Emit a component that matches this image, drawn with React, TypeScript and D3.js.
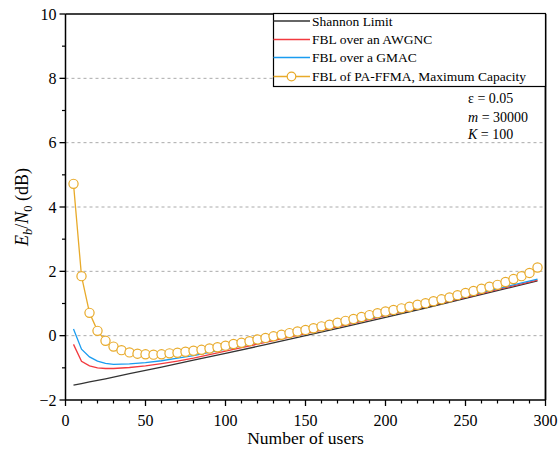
import React from "react";
import * as d3 from "d3";

const lineUsers = [5, 10, 15, 20, 25, 30, 40, 50, 60, 70, 80, 100, 125, 150, 175, 200, 225, 250, 275, 295];
const shannon = [-1.54, -1.49, -1.44, -1.39, -1.34, -1.29, -1.18, -1.08, -0.98, -0.87, -0.76, -0.55, -0.28, 0.0, 0.28, 0.57, 0.86, 1.16, 1.46, 1.7];
const awgnc = [-0.27, -0.8, -0.94, -1.0, -1.02, -1.02, -0.99, -0.94, -0.87, -0.79, -0.7, -0.48, -0.21, 0.06, 0.33, 0.62, 0.9, 1.19, 1.49, 1.73];
const gmac = [0.21, -0.42, -0.66, -0.79, -0.86, -0.89, -0.88, -0.84, -0.78, -0.7, -0.62, -0.42, -0.16, 0.1, 0.37, 0.65, 0.93, 1.22, 1.52, 1.76];

const ffmaUsers = [5, 10, 15, 20, 25, 30, 35, 40, 45, 50, 55, 60, 65, 70, 75, 80, 85, 90, 95, 100, 105, 110, 115, 120, 125, 130, 135, 140, 145, 150, 155, 160, 165, 170, 175, 180, 185, 190, 195, 200, 205, 210, 215, 220, 225, 230, 235, 240, 245, 250, 255, 260, 265, 270, 275, 280, 285, 290, 295];
const ffma = [4.72, 1.85, 0.71, 0.15, -0.16, -0.34, -0.45, -0.52, -0.56, -0.58, -0.59, -0.58, -0.55, -0.53, -0.5, -0.47, -0.44, -0.4, -0.36, -0.31, -0.26, -0.22, -0.17, -0.12, -0.07, -0.02, 0.03, 0.08, 0.13, 0.18, 0.23, 0.29, 0.34, 0.4, 0.46, 0.52, 0.58, 0.64, 0.7, 0.75, 0.8, 0.85, 0.9, 0.96, 1.01, 1.07, 1.13, 1.19, 1.26, 1.33, 1.39, 1.46, 1.52, 1.58, 1.67, 1.76, 1.85, 1.95, 2.12];

const xTicks = [0, 50, 100, 150, 200, 250, 300];
const yTicks = [-2, 0, 2, 4, 6, 8, 10];
const gridY = [0, 2, 4, 6, 8];

const legendLabels = ["Shannon Limit", "FBL over an AWGNC", "FBL over a GMAC", "FBL of PA-FFMA, Maximum Capacity"];

const C_BLACK = "#333333";
const C_RED = "#F23A3F";
const C_BLUE = "#1A9CF0";
const C_YEL = "#E8AA2A";

const FONT = "'Liberation Serif', 'Times New Roman', serif";

export default function App() {
  const W = 559, H = 449;
  const L = 65.5, R = 545.5, T = 14, B = 400;
  const x = d3.scaleLinear().domain([0, 300]).range([L, R]);
  const y = d3.scaleLinear().domain([-2, 10]).range([B, T]);

  const line = d3.line<[number, number]>().x(d => x(d[0])).y(d => y(d[1]));
  const mk = (xs: number[], ys: number[]) => xs.map((v, i) => [v, ys[i]] as [number, number]);

  const xMinor = d3.range(0, 301, 10).filter(v => v % 50 !== 0);
  const yMinor = d3.range(-2, 10.01, 1).filter(v => v % 2 !== 0);

  const legX0 = 273.5, legX1 = 545.5, legY0 = 13.5, legY1 = 86.5;
  const rowY = [21, 39.5, 57.5, 76.5];
  const legColors = [C_BLACK, C_RED, C_BLUE, C_YEL];

  return (
    <svg width={W} height={H} style={{ position: "absolute", left: 0, top: 0 }} fontFamily={FONT}>
      <rect width={W} height={H} fill="white" />
      {gridY.map(v => (
        <line key={"g" + v} x1={L} x2={R} y1={y(v)} y2={y(v)} stroke="#aaaaaa" strokeWidth={1} strokeDasharray="3,3" />
      ))}
      <path d={line(mk(lineUsers, shannon)) || ""} fill="none" stroke={C_BLACK} strokeWidth={1.3} />
      <path d={line(mk(lineUsers, awgnc)) || ""} fill="none" stroke={C_RED} strokeWidth={1.3} />
      <path d={line(mk(lineUsers, gmac)) || ""} fill="none" stroke={C_BLUE} strokeWidth={1.3} />
      <path d={line(mk(ffmaUsers, ffma)) || ""} fill="none" stroke={C_YEL} strokeWidth={1.3} />
      {ffmaUsers.map((u, i) => (
        <circle key={"c" + i} cx={x(u)} cy={y(ffma[i])} r={4.6} fill="white" stroke={C_YEL} strokeWidth={1.2} />
      ))}

      {/* axes frame */}
      <line x1={L} x2={R} y1={T} y2={T} stroke="black" strokeWidth={1.3} />
      <line x1={R} x2={R} y1={T} y2={B} stroke="black" strokeWidth={1.8} />
      <line x1={L} x2={L} y1={T} y2={B} stroke="black" strokeWidth={1.5} />
      <line x1={L} x2={R} y1={B} y2={B} stroke="black" strokeWidth={1.5} />

      {xTicks.map(v => (
        <g key={"xt" + v}>
          <line x1={x(v)} x2={x(v)} y1={B} y2={B + 6} stroke="black" strokeWidth={1.3} />
          <text x={x(v)} y={425.5} fontSize={16} textAnchor="middle">{v}</text>
        </g>
      ))}
      {xMinor.map(v => (
        <line key={"xm" + v} x1={x(v)} x2={x(v)} y1={B} y2={B + 3.5} stroke="black" strokeWidth={1.2} />
      ))}
      {yTicks.map(v => (
        <g key={"yt" + v}>
          <line x1={L - 6} x2={L} y1={y(v)} y2={y(v)} stroke="black" strokeWidth={1.3} />
          <text x={L - 9} y={y(v) + 5.5} fontSize={16} textAnchor="end">{v < 0 ? "\u2212" + Math.abs(v) : v}</text>
        </g>
      ))}
      {yMinor.map(v => (
        <line key={"ym" + v} x1={L - 3.5} x2={L} y1={y(v)} y2={y(v)} stroke="black" strokeWidth={1.2} />
      ))}

      <text x={(L + R) / 2} y={443.5} fontSize={17.5} textAnchor="middle">Number of users</text>
      <text transform={`translate(28, ${(T + B) / 2}) rotate(-90)`} fontSize={18} textAnchor="middle">
        <tspan fontStyle="italic">E</tspan>
        <tspan fontStyle="italic" fontSize={12.5} dy={4}>b</tspan>
        <tspan dy={-4}>/</tspan>
        <tspan fontStyle="italic">N</tspan>
        <tspan fontSize={12.5} dy={4}>0</tspan>
        <tspan dy={-4}> (dB)</tspan>
      </text>

      {/* legend */}
      <rect x={legX0} y={legY0} width={legX1 - legX0} height={legY1 - legY0} fill="white" stroke="black" strokeWidth={1.2} />
      {legendLabels.map((lab, i) => (
        <g key={"lg" + i}>
          <line x1={legX0} x2={310} y1={rowY[i]} y2={rowY[i]} stroke={legColors[i]} strokeWidth={1.3} />
          {i === 3 && <circle cx={291.5} cy={rowY[i]} r={4.3} fill="white" stroke={C_YEL} strokeWidth={1.2} />}
          <text x={312} y={rowY[i] + 4.5} fontSize={13.5}>{lab}</text>
        </g>
      ))}

      <text x={468} y={103} fontSize={14}>ε = 0.05</text>
      <text x={468} y={122} fontSize={14}><tspan fontStyle="italic">m</tspan> = 30000</text>
      <text x={468} y={139} fontSize={14}><tspan fontStyle="italic">K</tspan> = 100</text>
    </svg>
  );
}
